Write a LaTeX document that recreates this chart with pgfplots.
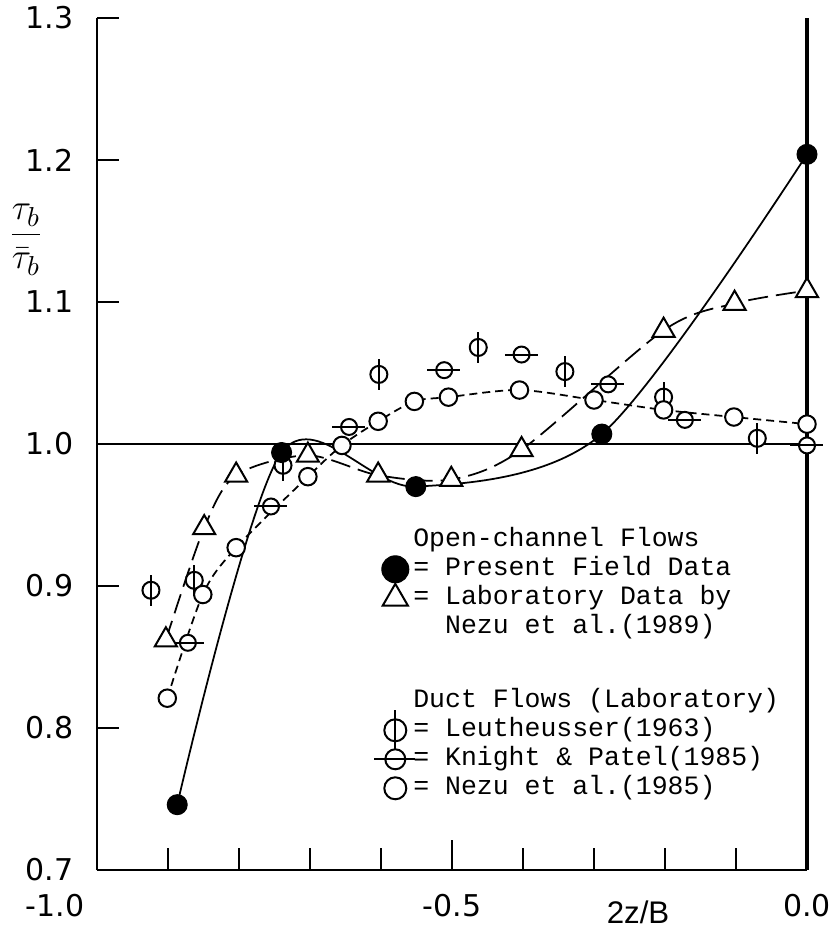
\documentclass[border=0pt]{standalone}
\usepackage{fontspec}
\setmainfont{DejaVu Sans}
\setmonofont{Liberation Mono}
\newfontfamily\labfont{Liberation Sans}
\usepackage{pgfplots}
\usepackage{pgfplotstable}
\pgfplotsset{compat=1.18}

% circle with a vertical bar (Leutheusser)
\pgfdeclareplotmark{phi}{%
  \pgfpathcircle{\pgfpointorigin}{\pgfplotmarksize}%
  \pgfusepathqfillstroke
  \pgfpathmoveto{\pgfqpoint{0pt}{-1.8\pgfplotmarksize}}%
  \pgfpathlineto{\pgfqpoint{0pt}{1.8\pgfplotmarksize}}%
  \pgfusepathqstroke}
% circle with a horizontal bar (Knight & Patel)
\pgfdeclareplotmark{theta}{%
  \pgfpathcircle{\pgfpointorigin}{\pgfplotmarksize}%
  \pgfusepathqfillstroke
  \pgfpathmoveto{\pgfqpoint{-2.1\pgfplotmarksize}{0pt}}%
  \pgfpathlineto{\pgfqpoint{2\pgfplotmarksize}{0pt}}%
  \pgfusepathqstroke}

% present field data
\pgfplotstableread{
x y
-0.887 0.746
-0.740 0.994
-0.551 0.970
-0.289 1.007
0.000 1.204
}\field
% laboratory data, Nezu et al. (1989)
\pgfplotstableread{
x y
-0.903 0.862
-0.849 0.941
-0.804 0.978
-0.703 0.992
-0.604 0.978
-0.501 0.975
-0.402 0.996
-0.202 1.080
-0.102 1.099
0.000 1.108
}\lab
% Nezu et al. (1985)
\pgfplotstableread{
x y
-0.901 0.821
-0.851 0.894
-0.804 0.927
-0.703 0.977
-0.655 0.999
-0.604 1.016
-0.553 1.030
-0.505 1.033
-0.405 1.038
-0.300 1.031
-0.202 1.024
-0.103 1.019
0.000 1.014
}\nezu
% Knight & Patel (1985)
\pgfplotstableread{
x y
-0.872 0.860
-0.755 0.956
-0.645 1.012
-0.511 1.052
-0.402 1.063
-0.280 1.042
-0.172 1.017
0.000 0.999
}\knight
% Leutheusser (1963)
\pgfplotstableread{
x y
-0.924 0.897
-0.863 0.904
-0.738 0.985
-0.603 1.049
-0.463 1.068
-0.341 1.051
-0.202 1.033
-0.070 1.004
}\leut

\begin{document}
\begin{tikzpicture}
\begin{axis}[
  scale only axis, width=284pt, height=340.8pt,
  xmin=-1, xmax=0, ymin=0.7, ymax=1.3,
  axis x line=bottom, axis y line=left,
  axis line style={-, line width=1.1pt},
  clip=false,
  xtick={-1,-0.9,-0.8,-0.7,-0.6,-0.5,-0.4,-0.3,-0.2,-0.1,0},
  xticklabels={\makebox[0pt][r]{-1.0\hspace{5pt}},,,,,-0.5,,,,,0.0},
  extra x ticks={-0.5}, extra x tick labels={},
  extra x tick style={major tick length=12pt},
  ytick={0.7,0.8,0.9,1.0,1.1,1.2,1.3},
  yticklabels={0.7,0.8,0.9,1.0,1.1,1.2,1.3},
  tick align=inside, major tick length=8.7pt,
  tick style={line width=1.1pt, black},
  ticklabel style={font=\fontsize{12}{14}\selectfont},
  xticklabel style={yshift=-6pt},
  yticklabel style={xshift=-6pt},
  xlabel={2z/B},
  xlabel style={at={(rel axis cs:0.762,0)}, anchor=center, yshift=-16.8pt,
    font=\labfont\fontsize{12.5}{14}\selectfont},
  ylabel={$\displaystyle\frac{\tau_b}{\bar{\tau}_b}$},
  ylabel style={rotate=-90, at={(rel axis cs:-0.1,0.74)}, anchor=center,
    font=\fontsize{15.5}{18}\selectfont},
  legend style={at={(0.392,0.404)}, anchor=north west, draw=none, fill=none,
    inner sep=0pt, outer sep=0pt, row sep=0pt, column sep=0pt,
    font=\ttfamily\fontsize{10.6}{12}\selectfont,
    cells={anchor=west},
    nodes={inner sep=0pt, text height=8.4pt, text depth=3.2pt}},
  legend image code/.code={%
    \path[draw=none, fill=none] (-8pt,0pt) -- (7.2pt,0pt);
    \draw[overlay, mark repeat=2, mark phase=2, #1]
      plot coordinates {(-1pt,0pt) (0pt,0pt) (1pt,0pt)};},
]
% reference lines
\addplot[forget plot, black, line width=0.6pt] coordinates {(-1,1) (0,1)};
\addplot[forget plot, black, line width=1.6pt] coordinates {(0,0.7) (0,1.3)};

% fitted curves
\addplot[forget plot, black, line width=0.7pt, smooth] table {\field};
\addplot[forget plot, black, line width=0.7pt, smooth, dash pattern=on 8pt off 3.2pt] table {\lab};
\addplot[forget plot, black, line width=0.7pt, smooth, dash pattern=on 3.2pt off 2pt] table {\nezu};

% data points
\addplot[forget plot, only marks, mark=theta, mark size=3.2pt,
  mark options={line width=0.8pt, fill=white, draw=black}] table {\knight};
\addplot[forget plot, only marks, mark=phi, mark size=3.4pt,
  mark options={line width=0.8pt, fill=white, draw=black}] table {\leut};
\addplot[forget plot, only marks, mark=*, mark size=3.5pt,
  mark options={line width=0.8pt, fill=white, draw=black}] table {\nezu};
\addplot[forget plot, only marks, mark=triangle*, mark size=5.1pt,
  mark options={line width=0.8pt, fill=white, draw=black}] table {\lab};
\addplot[forget plot, only marks, mark=*, mark size=4pt,
  mark options={fill=black, draw=black}] table {\field};

% legend
\addlegendimage{empty legend}
\addlegendentry{Open-channel Flows}
\addlegendimage{only marks, mark=*, mark size=5.4pt, mark options={fill=black, draw=black}}
\addlegendentry{= Present Field Data}
\addlegendimage{only marks, mark=triangle*, mark size=5.8pt,
  mark options={line width=0.8pt, fill=white, draw=black}}
\addlegendentry{= Laboratory Data by}
\addlegendimage{empty legend}
\addlegendentry{\phantom{= }Nezu et al.(1989)}
\addlegendimage{empty legend}
\addlegendentry[text height=18pt, text depth=0pt]{}
\addlegendimage{empty legend}
\addlegendentry{Duct Flows (Laboratory)}
\addlegendimage{only marks, mark=phi, mark size=4.4pt,
  mark options={line width=0.8pt, fill=white, draw=black}}
\addlegendentry{= Leutheusser(1963)}
\addlegendimage{only marks, mark=theta, mark size=4pt,
  mark options={line width=0.8pt, fill=white, draw=black}}
\addlegendentry{= Knight \& Patel(1985)}
\addlegendimage{only marks, mark=*, mark size=4.4pt,
  mark options={line width=0.8pt, fill=white, draw=black}}
\addlegendentry{= Nezu et al.(1985)}
\end{axis}
\pgfresetboundingbox
\path[use as bounding box] ([shift={(-38.8pt,-24.8pt)}]current axis.south west)
  rectangle ++(335.2pt,372.8pt);
\end{tikzpicture}
\end{document}
